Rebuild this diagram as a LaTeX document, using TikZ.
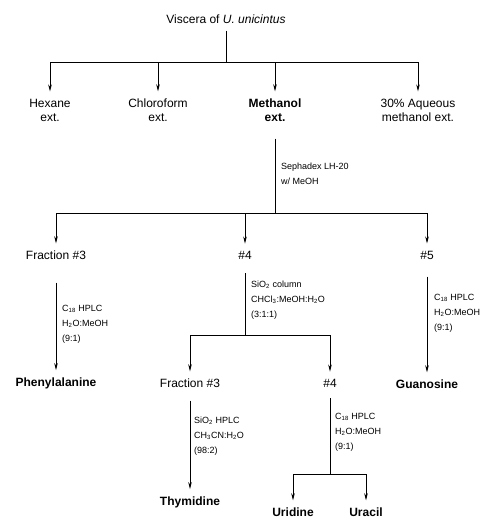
\documentclass[tikz,border=0pt]{standalone}
\usepackage{fontspec}
\setmainfont{Liberation Sans}
\usetikzlibrary{arrows.meta}

\tikzset{
  lbl/.style={align=center, outer sep=4pt, font=\fontsize{12}{14}\selectfont},
  prod/.style={lbl, font=\fontsize{12}{14}\selectfont\bfseries},
  cond/.style={anchor=west, align=left, inner sep=0pt, font=\fontsize{9}{15}\selectfont},
  stem/.style={line width=0.7pt},
  flow/.style={stem, -{Stealth[length=7pt,width=3.5pt]}},
}

\begin{document}
\begin{tikzpicture}[x=1pt, y=-1pt]
    \useasboundingbox (0,0) rectangle (496,520);

    % Viscera and the four extracts
    \node[lbl] (visc) at (226,19) {Viscera of \textit{U. unicintus}};
    \node[lbl] (hex) at (50,110) {Hexane\\ext.};
    \node[lbl] (chl) at (158,110) {Chloroform\\ext.};
    \node[prod] (meth) at (275,110) {Methanol\\ext.};
    \node[lbl] (aq) at (418,110) {30\% Aqueous\\methanol ext.};
    \coordinate (b1) at (226,62);
    \draw[stem] (visc) -- (b1);
    \draw[stem] (b1 -| hex) -- (b1 -| aq);
    \foreach \n in {hex, chl, meth, aq}
        \draw[flow] (b1 -| \n) -- (\n);

    % Sephadex fractions
    \node[cond] (seph) at (281,174) {Sephadex LH-20\\w/ MeOH};
    \node[lbl] (f3) at (56,255) {Fraction \#3};
    \node[lbl] (f4) at (245,255) {\#4};
    \node[lbl] (f5) at (427,255) {\#5};
    \coordinate (b2) at (275,213);
    \draw[stem, shorten <=10pt] (meth) -- (b2);
    \draw[stem] (b2 -| f3) -- (b2 -| f5);
    \foreach \n in {f3, f4, f5}
        \draw[flow] (b2 -| \n) -- (\n);

    % Fraction #3 and #5
    \node[prod] (phe) at (56,383) {Phenylalanine};
    \node[cond] (hplc1) at (62,324) {C\textsubscript{18} HPLC\\H\textsubscript{2}O:MeOH\\(9:1)};
    \draw[flow, shorten <=16pt] (f3) -- (phe);
    \node[prod] (gua) at (427,384) {Guanosine};
    \node[cond] (hplc2) at (434,313) {C\textsubscript{18} HPLC\\H\textsubscript{2}O:MeOH\\(9:1)};
    \draw[flow, shorten <=10pt] (f5) -- (gua);

    % Fraction #4 on silica
    \node[cond] (sio) at (251,300) {SiO\textsubscript{2} column\\CHCl\textsubscript{3}:MeOH:H\textsubscript{2}O\\(3:1:1)};
    \node[lbl] (g3) at (190,383) {Fraction \#3};
    \node[lbl] (g4) at (330,383) {\#4};
    \coordinate (b3) at (245,335);
    \draw[stem, shorten <=7pt] (f4) -- (b3);
    \draw[stem] (b3 -| g3) -- (b3 -| g4);
    \foreach \n in {g3, g4}
        \draw[flow] (b3 -| \n) -- (\n);

    % Thymidine
    \node[prod] (thy) at (190,502) {Thymidine};
    \node[cond] (hplc3) at (194,436) {SiO\textsubscript{2} HPLC\\CH\textsubscript{3}CN:H\textsubscript{2}O\\(98:2)};
    \draw[flow, shorten <=6pt] (g3) -- (thy);

    % Uridine and uracil
    \node[cond] (hplc4) at (335,432) {C\textsubscript{18} HPLC\\H\textsubscript{2}O:MeOH\\(9:1)};
    \node[prod] (uri) at (293,512) {Uridine};
    \node[prod] (ura) at (366,512) {Uracil};
    \coordinate (b4) at (330,474);
    \draw[stem, shorten <=4pt] (g4) -- (b4);
    \draw[stem] (b4 -| uri) -- (b4 -| ura);
    \foreach \n in {uri, ura}
        \draw[flow] (b4 -| \n) -- (\n);
\end{tikzpicture}
\end{document}
